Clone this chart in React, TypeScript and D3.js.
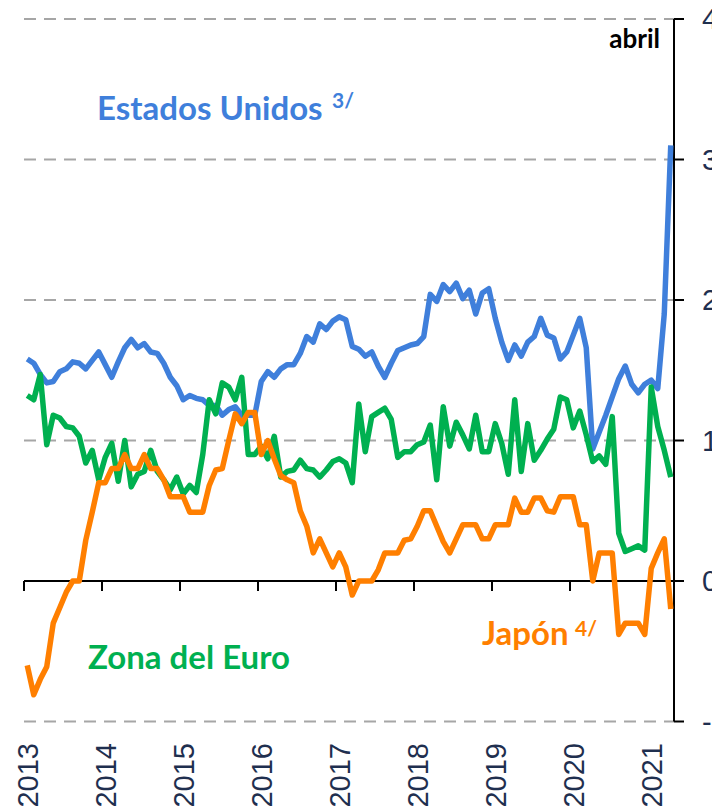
import React from "react";
import * as d3 from "d3";

const years = ["2013", "2014", "2015", "2016", "2017", "2018", "2019", "2020", "2021"];
const yTicks = [-1, 0, 1, 2, 3, 4];
const gridValues = [-1, 1, 2, 3, 4];

// Monthly, Jan 2013 - Apr 2021
const estadosUnidos = [
  1.58, 1.55, 1.47, 1.41, 1.42, 1.49, 1.51, 1.56, 1.55, 1.51, 1.57, 1.63,
  1.54, 1.45, 1.56, 1.66, 1.72, 1.66, 1.69, 1.63, 1.62, 1.55, 1.45, 1.39,
  1.29, 1.32, 1.30, 1.29, 1.25, 1.25, 1.18, 1.22, 1.24, 1.18, 1.18, 1.18,
  1.42, 1.49, 1.45, 1.51, 1.54, 1.54, 1.62, 1.74, 1.70, 1.83, 1.79, 1.85,
  1.88, 1.86, 1.67, 1.65, 1.60, 1.63, 1.53, 1.45, 1.55, 1.64, 1.66, 1.68,
  1.69, 1.74, 2.04, 1.99, 2.11, 2.06, 2.12, 2.01, 2.07, 1.90, 2.05, 2.08,
  1.87, 1.70, 1.57, 1.68, 1.60, 1.70, 1.74, 1.87, 1.75, 1.73, 1.58, 1.63,
  1.75, 1.87, 1.66, 0.94, 1.06, 1.18, 1.31, 1.44, 1.53, 1.40, 1.34, 1.40,
  1.43, 1.37, 1.90, 3.10,
];

const zonaEuro = [
  1.32, 1.29, 1.47, 0.97, 1.18, 1.16, 1.10, 1.09, 1.03, 0.84, 0.93, 0.72,
  0.88, 0.98, 0.71, 1.00, 0.67, 0.76, 0.78, 0.93, 0.78, 0.72, 0.65, 0.74,
  0.62, 0.68, 0.63, 0.90, 1.29, 1.19, 1.41, 1.38, 1.29, 1.45, 0.90, 0.90,
  0.96, 0.87, 1.03, 0.74, 0.78, 0.79, 0.86, 0.80, 0.79, 0.74, 0.79, 0.85,
  0.87, 0.84, 0.70, 1.26, 0.92, 1.17, 1.20, 1.23, 1.15, 0.88, 0.92, 0.92,
  0.97, 0.99, 1.11, 0.72, 1.24, 0.96, 1.13, 1.04, 0.94, 1.18, 0.92, 0.92,
  1.12, 0.98, 0.76, 1.29, 0.78, 1.12, 0.86, 0.93, 1.01, 1.08, 1.31, 1.29,
  1.09, 1.21, 1.04, 0.85, 0.89, 0.83, 1.17, 0.34, 0.21, 0.23, 0.25, 0.22,
  1.38, 1.10, 0.93, 0.74,
];

const japon = [
  -0.60, -0.81, -0.70, -0.61, -0.30, -0.19, -0.08, 0.0, 0.0, 0.29, 0.49, 0.70,
  0.70, 0.80, 0.80, 0.90, 0.80, 0.80, 0.90, 0.80, 0.80, 0.72, 0.60, 0.60,
  0.60, 0.49, 0.49, 0.49, 0.68, 0.79, 0.80, 1.00, 1.19, 1.12, 1.20, 1.20,
  0.90, 1.00, 0.87, 0.75, 0.72, 0.70, 0.50, 0.39, 0.20, 0.30, 0.20, 0.10,
  0.20, 0.10, -0.10, 0.0, 0.0, 0.0, 0.08, 0.20, 0.20, 0.20, 0.29, 0.30,
  0.39, 0.50, 0.50, 0.39, 0.28, 0.20, 0.30, 0.40, 0.40, 0.40, 0.30, 0.30,
  0.40, 0.40, 0.40, 0.59, 0.49, 0.49, 0.59, 0.59, 0.50, 0.49, 0.60, 0.60,
  0.60, 0.40, 0.40, 0.0, 0.20, 0.20, 0.20, -0.38, -0.30, -0.30, -0.30, -0.38,
  0.09, 0.20, 0.30, -0.20,
];

const BLUE = "#3F7FDB";
const GREEN = "#00B050";
const ORANGE = "#FF7F00";
const NAVY = "#1F2F4F";

export default function App() {
  const W = 712;
  const H = 808;
  const x = d3.scaleLinear().domain([0, 100]).range([24, 674]);
  const y = d3.scaleLinear().domain([-1, 4]).range([721.5, 19]);
  const line = d3
    .line<number>()
    .x((_, i) => x(i + 0.5))
    .y((d) => y(d));

  const titleFont = "Lato, 'Open Sans', sans-serif";
  const axisFont = "'Liberation Sans', Arial, sans-serif";

  return (
    <svg
      width={W}
      height={H}
      viewBox={`0 0 ${W} ${H}`}
      style={{ position: "absolute", left: 0, top: 0, background: "#fff" }}
    >
      <rect x={0} y={0} width={W} height={H} fill="#fff" />
      {/* dashed gridlines */}
      {gridValues.map((v) => (
        <line
          key={v}
          x1={x(0)}
          x2={x(100)}
          y1={y(v)}
          y2={y(v)}
          stroke="#A6A6A6"
          strokeWidth={2}
          strokeDasharray="12 8"
        />
      ))}
      {/* x axis at zero */}
      <line x1={x(0)} x2={x(100)} y1={y(0)} y2={y(0)} stroke="#000" strokeWidth={2} />
      {years.map((yr, k) => (
        <line
          key={"t" + yr}
          x1={x(12 * k)}
          x2={x(12 * k)}
          y1={y(0)}
          y2={y(0) + 10}
          stroke="#000"
          strokeWidth={2}
        />
      ))}
      {/* right axis */}
      <line x1={x(100)} x2={x(100)} y1={y(4)} y2={y(-1)} stroke="#000" strokeWidth={2} />
      {yTicks.map((v) => (
        <line
          key={"yt" + v}
          x1={x(100)}
          x2={x(100) + 10}
          y1={y(v)}
          y2={y(v)}
          stroke="#000"
          strokeWidth={2}
        />
      ))}
      {yTicks.map((v) => (
        <text
          key={"yl" + v}
          x={702}
          y={y(v)}
          dy="0.36em"
          fontFamily={axisFont}
          fontSize={29}
          fill={NAVY}
        >
          {v < 0 ? "-" + Math.abs(v) : String(v)}
        </text>
      ))}
      {/* year labels */}
      {years.map((yr, k) => (
        <text
          key={"yl" + yr}
          transform={`translate(${x(12 * k) + 14},743) rotate(-90)`}
          textAnchor="end"
          fontFamily={axisFont}
          fontSize={29}
          fill={NAVY}
        >
          {yr}
        </text>
      ))}
      {/* series */}
      <path d={line(estadosUnidos) || ""} fill="none" stroke={BLUE} strokeWidth={5.5} strokeLinejoin="round" />
      <path d={line(zonaEuro) || ""} fill="none" stroke={GREEN} strokeWidth={5.5} strokeLinejoin="round" />
      <path d={line(japon) || ""} fill="none" stroke={ORANGE} strokeWidth={5.5} strokeLinejoin="round" />
      {/* labels */}
      <text x={660} y={48} textAnchor="end" fontFamily={titleFont} fontWeight={700} fontSize={26} fill="#000">
        abril
      </text>
      <text x={97} y={120} fontFamily={titleFont} fontWeight={700} fontSize={33} fill={BLUE}>
        Estados Unidos
      </text>
      <text x={332} y={108} fontFamily={titleFont} fontWeight={700} fontSize={21} fill={BLUE}>
        3/
      </text>
      <text x={88} y={669} fontFamily={titleFont} fontWeight={700} fontSize={33} fill={GREEN}>
        Zona del Euro
      </text>
      <text x={482} y={645} fontFamily={titleFont} fontWeight={700} fontSize={33} fill={ORANGE}>
        Japón
      </text>
      <text x={575} y={636} fontFamily={titleFont} fontWeight={700} fontSize={21} fill={ORANGE}>
        4/
      </text>
    </svg>
  );
}
